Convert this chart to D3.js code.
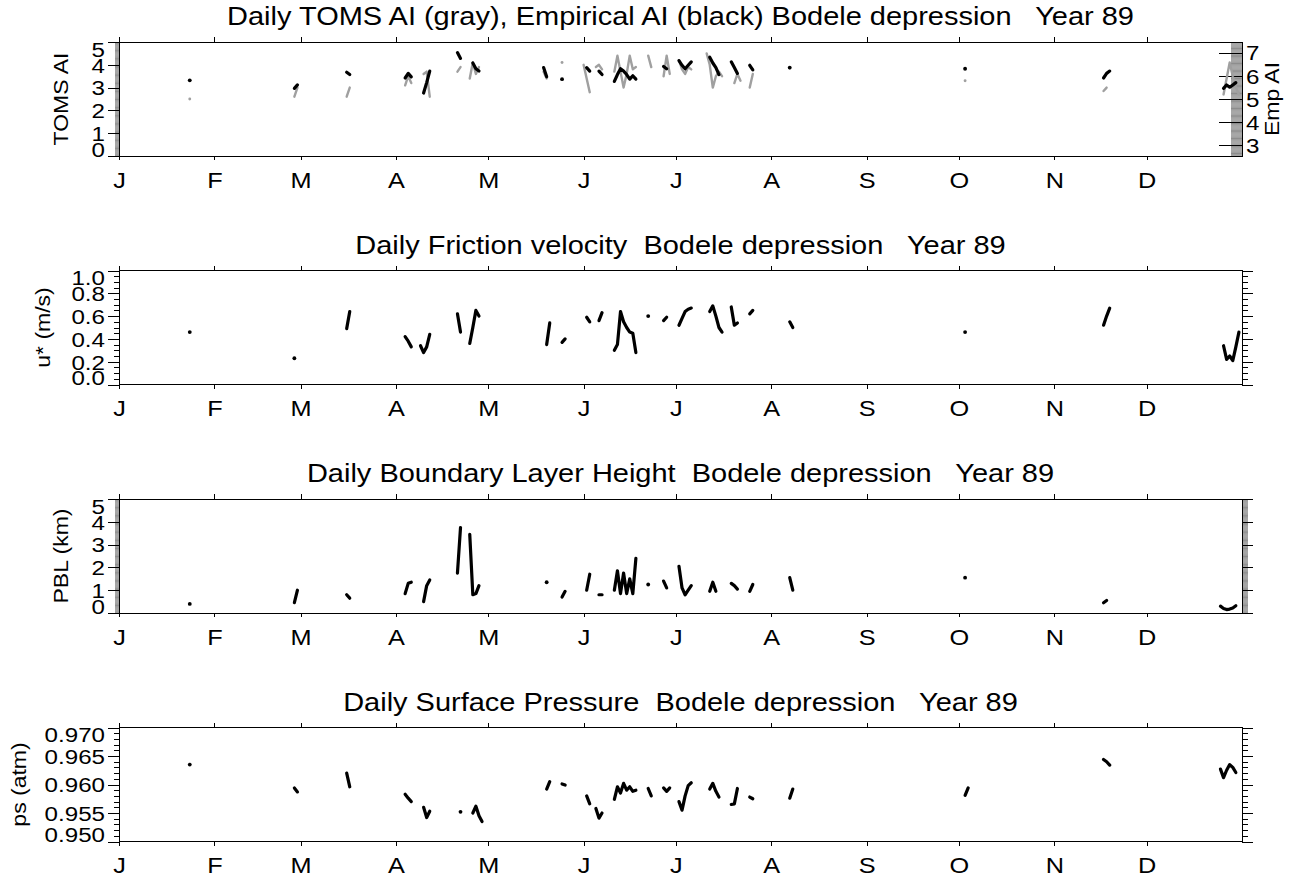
<!DOCTYPE html>
<html>
<head>
<meta charset="utf-8">
<script src="https://cdn.jsdelivr.net/npm/d3@7"></script>
<style>
  body { margin: 0; background: #fff; }
  text { font-family: "Liberation Sans", Arial, Helvetica, sans-serif; fill: #000; }
</style>
</head>
<body>
<svg id="chart" width="1294" height="879"></svg>
<script>
// month ticks (day of year, 0 = Jan 1)
const months = ["J","F","M","A","M","J","J","A","S","O","N","D"]
const monthStart = [0,31,59,90,120,151,181,212,243,273,304,334]

// tick labels
const tomsTicks = [0,1,2,3,4,5]
const empTicks = [3,4,5,6,7]
const ustarTicks = [0,0.2,0.4,0.6,0.8,1.0]
const pblTicks = [0,1,2,3,4,5]
const psTicks = [0.950,0.955,0.960,0.965,0.970]

// daily values [day, value], missing days are gaps
const tomsAI = [
  [23,2.5],
  [57,2.6],[58,3.0],
  [74,2.6],[75,3.0],
  [93,3.1],[94,3.5],[95,3.2],
  [99,3.6],[100,3.7],[101,2.6],
  [110,3.7],[111,3.9],
  [114,3.4],[115,4.1],[116,3.6],[117,3.9],
  [138,3.7],[139,3.4],
  [144,4.1],
  [151,4.0],[152,3.4],[153,2.8],
  [155,3.9],[156,4.0],[157,3.8],
  [161,3.7],[162,4.4],[163,3.7],[164,3.0],[165,3.6],[166,4.4],[167,3.8],[168,3.9],
  [172,4.4],[173,3.9],
  [177,3.5],[178,4.4],[179,3.6],
  [182,4.2],[183,3.8],[184,3.6],[185,3.9],[186,3.8],
  [191,4.5],[192,4.0],[193,3.0],[194,3.5],[195,3.7],[196,3.5],
  [200,3.2],[201,3.6],[202,3.3],
  [205,3.0],[206,3.6],
  [218,3.85],
  [275,3.3],
  [320,2.85],[321,3.0],
  [359,2.7],[360,3.4],[361,4.1],[362,3.5],[363,3.0],[364,2.7]
]

const empAI = [
  [23,5.8],
  [57,5.45],[58,5.6],
  [74,6.15],[75,6.05],
  [93,5.9],[94,6.1],[95,5.95],
  [99,5.25],[100,5.7],[101,6.2],
  [110,7.0],[111,6.75],
  [115,6.55],[116,6.3],[117,6.2],
  [138,6.35],[139,5.95],
  [144,5.85],
  [152,6.35],[153,6.2],
  [156,6.2],[157,6.05],
  [161,5.75],[162,6.05],[163,6.3],[164,6.2],[165,6.05],[166,5.85],[167,6.0],[168,5.85],
  [177,6.4],[178,6.3],
  [182,6.65],[183,6.45],[184,6.3],[185,6.45],[186,6.6],
  [192,6.8],[193,6.55],[194,6.35],[195,6.05],
  [199,6.6],[200,6.35],[201,6.1],
  [205,6.45],[206,6.25],
  [218,6.35],
  [275,6.3],
  [320,5.9],[321,6.1],[322,6.2],
  [359,5.45],[360,5.6],[361,5.5],[362,5.6],[363,5.7]
]

const ustar = [
  [23,0.46],
  [57,0.23],
  [74,0.49],[75,0.64],
  [93,0.42],[94,0.38],[95,0.33],
  [98,0.34],[99,0.28],[100,0.33],[101,0.44],
  [110,0.62],[111,0.46],
  [114,0.36],[115,0.5],[116,0.65],[117,0.6],
  [139,0.35],[140,0.54],
  [144,0.37],[145,0.4],
  [152,0.59],[153,0.55],
  [156,0.56],[157,0.63],
  [161,0.3],[162,0.35],[163,0.64],[164,0.55],[165,0.5],[166,0.46],[167,0.45],[168,0.28],
  [172,0.6],
  [177,0.56],[178,0.59],
  [182,0.52],[183,0.58],[184,0.64],[185,0.66],[186,0.67],
  [192,0.64],[193,0.69],[194,0.6],[195,0.5],[196,0.46],
  [199,0.68],[200,0.52],[201,0.54],
  [205,0.62],[206,0.65],
  [218,0.55],[219,0.5],
  [275,0.46],
  [320,0.52],[321,0.6],[322,0.67],
  [359,0.34],[360,0.22],[361,0.25],[362,0.21],[363,0.33],[364,0.46]
]

const pbl = [
  [23,0.4],
  [57,0.45],[58,1.0],
  [74,0.8],[75,0.65],
  [93,0.85],[94,1.3],[95,1.35],
  [99,0.5],[100,1.2],[101,1.45],
  [110,1.75],[111,3.75],
  [114,3.45],[115,0.8],[116,0.85],[117,1.2],
  [139,1.35],
  [144,0.7],[145,0.95],
  [152,1.0],[153,1.7],
  [156,0.8],[157,0.8],
  [161,1.0],[162,1.85],[163,0.85],[164,1.75],[165,0.85],[166,1.5],[167,0.85],[168,2.4],
  [172,1.25],
  [177,1.4],[178,1.1],
  [182,2.05],[183,1.1],[184,0.8],[185,1.0],[186,1.2],
  [192,0.95],[193,1.35],[194,0.95],
  [199,1.3],[200,1.2],[201,1.05],
  [205,0.95],[206,1.25],
  [218,1.55],[219,1.0],
  [275,1.55],
  [320,0.45],[321,0.55],
  [358,0.3],[359,0.2],[360,0.15],[361,0.17],[362,0.22],[363,0.32]
]

const ps = [
  [23,0.9635],
  [57,0.9594],[58,0.9587],
  [74,0.962],[75,0.9596],
  [93,0.9583],[94,0.9576],[95,0.957],
  [99,0.956],[100,0.9542],[101,0.9553],
  [111,0.9552],
  [115,0.955],[116,0.9562],[117,0.9545],[118,0.9535],
  [139,0.9592],[140,0.9605],
  [144,0.9601],[145,0.9599],
  [152,0.958],[153,0.9566],
  [155,0.9558],[156,0.9541],[157,0.955],
  [161,0.9574],[162,0.9596],[163,0.9585],[164,0.9602],[165,0.959],[166,0.9596],[167,0.9588],[168,0.959],
  [172,0.9593],[173,0.958],
  [177,0.9594],[178,0.9588],[179,0.9594],
  [182,0.957],[183,0.9555],[184,0.958],[185,0.9598],[186,0.9603],
  [192,0.9592],[193,0.9602],[194,0.9588],[195,0.9578],
  [199,0.9565],[200,0.9566],[201,0.9593],
  [205,0.9578],[206,0.9575],
  [218,0.9576],[219,0.9592],
  [275,0.9581],[276,0.9594],
  [320,0.9644],[321,0.964],[322,0.9634],
  [358,0.9627],[359,0.9612],[360,0.9625],[361,0.9635],[362,0.963],[363,0.9621]
]

// layout
const SX = 1.15             // fonts are drawn a bit wide, like the original
const panelTop = [42, 270.5, 499, 727.5]
const panelH = 114
const x = d3.scaleLinear().domain([0, 365]).range([119, 1242])

const panels = [
  { title: "Daily TOMS AI (gray), Empirical AI (black) Bodele depression   Year 89",
    ylabel: "TOMS AI", labelX: 68, domain: [0, 5], ticks: tomsTicks, minor: 0.05, fmt: d3.format("d"),
    lines: [{ data: tomsAI, color: "#a0a0a0", width: 2.4 }, { data: empAI, color: "#000", width: 3.2, right: true }],
    right: { domain: [2.52, 7.46], ticks: empTicks, minor: 0.05, label: "Emp AI", fmt: d3.format("d") } },
  { title: "Daily Friction velocity  Bodele depression   Year 89",
    ylabel: "u* (m/s)", labelX: 50, domain: [0, 1], ticks: ustarTicks, minor: 0.05, fmt: d3.format(".1f"),
    lines: [{ data: ustar, color: "#000", width: 3.2 }] },
  { title: "Daily Boundary Layer Height  Bodele depression   Year 89",
    ylabel: "PBL (km)", labelX: 68, domain: [0, 5], ticks: pblTicks, minor: 0.05, fmt: d3.format("d"),
    lines: [{ data: pbl, color: "#000", width: 3.2 }] },
  { title: "Daily Surface Pressure  Bodele depression   Year 89",
    ylabel: "ps (atm)", labelX: 26, domain: [0.950, 0.970], ticks: psTicks, minor: 0.001, fmt: d3.format(".3f"),
    lines: [{ data: ps, color: "#000", width: 3.2 }] }
]

const svg = d3.select("#chart")

// split daily series into runs of consecutive days
function runs(pts) {
  const out = []
  let cur = []
  pts.forEach((p, i) => {
    if (i > 0 && p[0] - pts[i - 1][0] > 1) { out.push(cur); cur = [] }
    cur.push(p)
  })
  if (cur.length) out.push(cur)
  return out
}

function minorVals(domain, step) {
  const n = Math.round((domain[1] - domain[0]) / step)
  return d3.range(n + 1).map(k => domain[0] + k * step)
}

function cleanAxis(g) {
  g.select(".domain").remove()
  g.attr("font-size", null).attr("font-family", null)
  g.selectAll("line").attr("shape-rendering", "crispEdges")
}

// dense minor ticks: thin antialiased lines so they read as a gray band
function minorAxis(g, dense) {
  g.select(".domain").remove()
  g.selectAll("line")
    .attr("stroke-width", dense ? 0.45 : 1)
    .attr("shape-rendering", dense ? null : "crispEdges")
}

panels.forEach((p, i) => {
  const top = panelTop[i], bot = top + panelH
  const y = d3.scaleLinear().domain(p.domain).range([bot, top])
  const clampY = v => Math.max(top + 7, Math.min(bot - 7, v))
  const g = svg.append("g")
  const midX = (x.range()[0] + x.range()[1]) / 2
  const dense = (y(p.domain[0]) - y(p.domain[0] + p.minor)) < 2

  //title
  g.append("text")
    .attr("transform", `translate(${midX},${top - 17}) scale(${SX},1)`)
    .attr("text-anchor", "middle")
    .style("font-size", "25.2px")
    .style("white-space", "pre")
    .text(p.title)

  //left y axis, minor then major
  g.append("g").attr("transform", `translate(${x(0)},0)`)
    .call(d3.axisLeft(y).tickValues(minorVals(p.domain, p.minor)).tickSize(dense ? 4 : 5).tickFormat(""))
    .call(g => minorAxis(g, dense))

  const yl = g.append("g").attr("transform", `translate(${x(0)},0)`)
    .call(d3.axisLeft(y).tickValues(p.ticks).tickSize(11).tickFormat(p.fmt))
    .call(cleanAxis)
  yl.selectAll("text")
    .attr("x", 0).attr("dy", "0.35em")
    .style("font-size", "21px")
    .attr("transform", d => `translate(-14,${clampY(y(d)) - y(d)}) scale(${SX},1)`)

  g.append("text")
    .attr("transform", `translate(${p.labelX},${(top + bot) / 2}) rotate(-90) scale(${SX},1)`)
    .attr("text-anchor", "middle")
    .style("font-size", "20px")
    .text(p.ylabel)

  //right y axis
  let y2 = y
  if (p.right) {
    y2 = d3.scaleLinear().domain(p.right.domain).range([bot, top])
    g.append("g").attr("transform", `translate(${x(365)},0)`)
      .call(d3.axisRight(y2).tickValues(minorVals([2.55, 7.45], p.right.minor)).tickSize(-11).tickFormat(""))
      .call(g => minorAxis(g, true))
    const yr = g.append("g").attr("transform", `translate(${x(365)},0)`)
      .call(d3.axisRight(y2).tickValues(p.right.ticks).tickSize(-23).tickFormat(p.right.fmt))
      .call(cleanAxis)
    yr.selectAll("text")
      .attr("x", 0).attr("dy", "0.35em")
      .style("font-size", "21px")
      .attr("transform", `translate(4,0) scale(${SX},1)`)
    g.append("text")
      .attr("transform", `translate(1279,${(top + bot) / 2}) rotate(-90) scale(${SX},1)`)
      .attr("text-anchor", "middle")
      .style("font-size", "20px")
      .text(p.right.label)
  } else {
    g.append("g").attr("transform", `translate(${x(365)},0)`)
      .call(d3.axisRight(y).tickValues(minorVals(p.domain, p.minor)).tickSize(6).tickFormat(""))
      .call(g => minorAxis(g, dense))
    g.append("g").attr("transform", `translate(${x(365)},0)`)
      .call(d3.axisRight(y).tickValues(p.ticks).tickSize(11).tickFormat(""))
      .call(cleanAxis)
  }

  //month axes top and bottom
  g.append("g").attr("transform", `translate(0,${top})`)
    .call(d3.axisTop(x).tickValues(monthStart).tickSize(5).tickFormat(""))
    .call(cleanAxis)
  const xb = g.append("g").attr("transform", `translate(0,${bot})`)
    .call(d3.axisBottom(x).tickValues(monthStart).tickSize(4).tickPadding(12).tickFormat((d, k) => months[k]))
    .call(cleanAxis)
  xb.selectAll("text")
    .style("font-size", "22px")
    .attr("transform", `scale(${SX},1)`)

  //frame
  g.append("rect")
    .attr("x", x(0)).attr("y", top)
    .attr("width", x(365) - x(0)).attr("height", panelH)
    .attr("fill", "none").attr("stroke", "#000").attr("stroke-width", 1)
    .attr("shape-rendering", "crispEdges")

  //data lines, one path per run of consecutive days
  p.lines.forEach(line => {
    const ys = line.right ? y2 : y
    const gen = d3.line().x(d => x(d[0])).y(d => ys(d[1]))
    runs(line.data).forEach(run => {
      if (run.length === 1) {
        g.append("circle")
          .attr("cx", x(run[0][0])).attr("cy", ys(run[0][1]))
          .attr("r", line.width * 0.6)
          .attr("fill", line.color)
      } else {
        g.append("path")
          .datum(run)
          .attr("d", gen)
          .attr("fill", "none")
          .attr("stroke", line.color)
          .attr("stroke-width", line.width)
          .attr("stroke-linejoin", "round")
          .attr("stroke-linecap", "round")
      }
    })
  })
})
</script>
</body>
</html>
